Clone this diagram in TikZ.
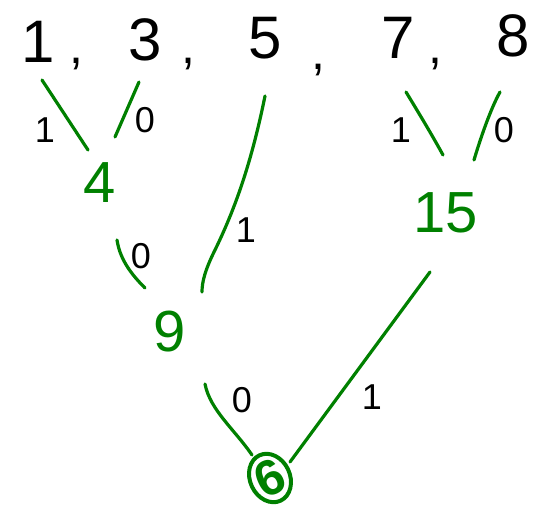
\documentclass[tikz,border=0pt]{standalone}
\usepackage{fontspec}
\setmainfont{Liberation Sans}
\usetikzlibrary{shapes.geometric}
\definecolor{pen}{RGB}{0,128,0}
\tikzset{
  x=1pt,y=-1pt,
  leaf/.style={text=black,font=\fontsize{60}{60}\selectfont,inner sep=0pt},
  comma/.style={text=black,font=\fontsize{50}{50}\selectfont,inner sep=0pt},
  inner/.style={text=pen,font=\fontsize{58}{58}\selectfont,inner sep=0pt},
  bit/.style={text=black,font=\fontsize{36}{36}\selectfont,inner sep=0pt},
  edge/.style={draw=pen,line width=3.2pt,line cap=round},
}
\begin{document}
\begin{tikzpicture}
\useasboundingbox (0,0) rectangle (535,508);
% leaves
\node[leaf] (l1) at (38,42) {1};
\node[comma] (c1) at (76,64) {,};
\node[leaf] (l3) at (145,40) {3};
\node[comma] (c2) at (188,64) {,};
\node[leaf] (l5) at (265,38) {5};
\node[comma] (c3) at (318,70) {,};
\node[leaf] (l7) at (398,38) {7};
\node[comma] (c4) at (435,64) {,};
\node[leaf] (l8) at (513,36) {8};
% inner nodes
\node[inner] (n4) at (100,183) {4};
\node[inner] (n15) at (446,213) {15};
\node[inner] (n9) at (170,332) {9};
\node[inner,draw=pen,ellipse,line width=4pt,minimum width=40pt,minimum height=46pt,rotate=25,font=\fontsize{50}{50}\bfseries] (root) at (270,478) {6};
% connector ends
\coordinate (a1) at (42,80); \coordinate (a2) at (88,150);
\coordinate (b1) at (139,82); \coordinate (b2) at (115,137);
\coordinate (c5a) at (265,96); \coordinate (c5b) at (202,292);
\coordinate (d1) at (117,240); \coordinate (d2) at (145,288);
\coordinate (e1) at (406,92); \coordinate (e2) at (443,155);
\coordinate (f1) at (500,92); \coordinate (f2) at (474,160);
\coordinate (g1) at (430,272); \coordinate (g2) at (290,462);
\coordinate (h1) at (205,384); \coordinate (h2) at (252,455);
% connectors
\draw[edge] (a1) -- (a2);
\draw[edge] (b1) -- (b2);
\draw[edge] (c5a) .. controls (250,170) and (232,215) .. (215,250) .. controls (205,270) and (202,282) .. (c5b);
\draw[edge] (d1) .. controls (120,260) and (132,275) .. (d2);
\draw[edge] (e1) .. controls (420,115) and (432,135) .. (e2);
\draw[edge] (f1) .. controls (490,110) and (480,140) .. (f2);
\draw[edge] (g1) -- (g2);
\draw[edge] (h1) .. controls (210,410) and (235,430) .. (h2);
% bit labels
\node[bit] (k1) at (45,130) {1};
\node[bit] (k2) at (145,120) {0};
\node[bit] (k3) at (246,230) {1};
\node[bit] (k4) at (141,256) {0};
\node[bit] (k5) at (401,130) {1};
\node[bit] (k6) at (504,130) {0};
\node[bit] (k7) at (242,400) {0};
\node[bit] (k8) at (372,397) {1};
\end{tikzpicture}
\end{document}
